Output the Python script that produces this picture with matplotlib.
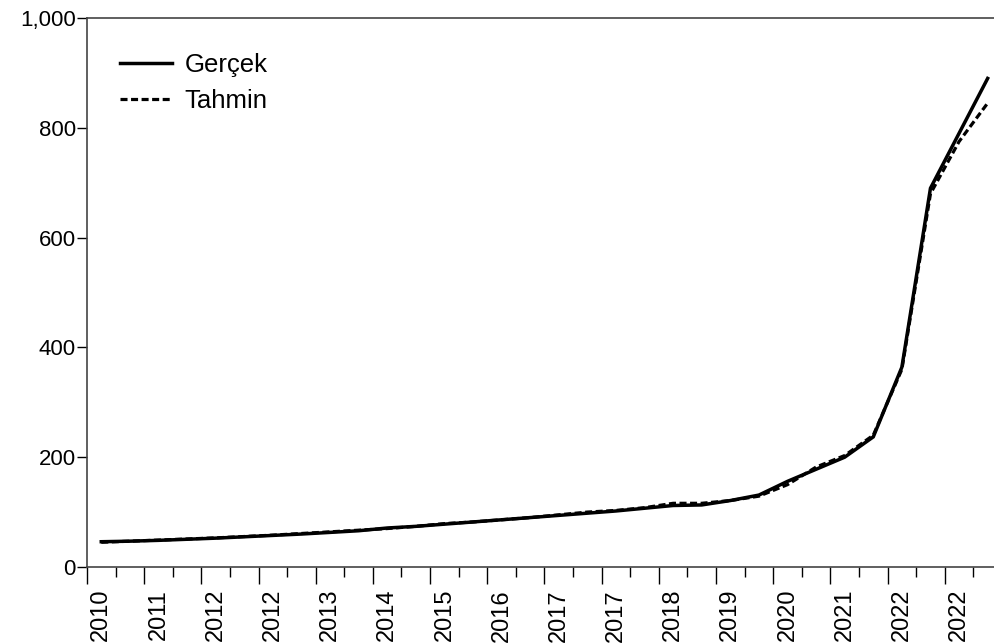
import matplotlib.pyplot as plt
from matplotlib.ticker import FixedLocator, FuncFormatter

plt.rcParams['font.family'] = ['Liberation Sans', 'DejaVu Sans']

# one label for every second observation
tick_labels = ['2010', '2011', '2012', '2012', '2013', '2014', '2015', '2016',
               '2017', '2017', '2018', '2019', '2020', '2021', '2022', '2022']

gercek = [46, 47, 48.5, 50.5, 52.5, 55, 57.5, 60, 63, 66,
          71, 74, 78, 82, 86, 90, 94, 98, 102, 107,
          112, 113, 121, 131, 156, 178, 200, 237, 364, 690,
          790, 890]

tahmin = [45, 47, 49, 51, 53, 55.5, 58, 61, 64, 67,
          70, 74, 79, 82, 86, 90, 95, 100, 103, 108,
          116, 116, 121, 129, 150, 182, 203, 240, 360, 680,
          775, 845]

x = list(range(len(gercek)))

fig = plt.figure(figsize=(9.94, 6.44), dpi=100)
ax = fig.add_axes([0.0875, 0.1196, 0.9205, 0.8524])

ax.plot(x, gercek, color='black', lw=2.5, solid_joinstyle='miter', label='Gerçek')
ax.plot(x, tahmin, color='black', lw=2.3, ls=(0, (2.2, 1.1)), label='Tahmin')

ax.set_xlim(-0.5, len(x) - 0.5)
ax.set_ylim(0, 1000)

ax.xaxis.set_major_locator(FixedLocator([i - 0.5 for i in range(0, len(x), 2)]))
ax.xaxis.set_minor_locator(FixedLocator([i + 0.5 for i in range(0, len(x), 2)]))
ax.set_xticklabels([])
ax.tick_params(axis='x', which='major', length=12, width=1, direction='out')
ax.tick_params(axis='x', which='minor', length=7, width=1, direction='out')
for i, lab in enumerate(tick_labels):
    ax.text(2 * i, -0.04, lab, transform=ax.get_xaxis_transform(),
            rotation=90, ha='center', va='top', fontsize=17)

ax.set_yticks([0, 200, 400, 600, 800, 1000])
ax.yaxis.set_major_formatter(FuncFormatter(lambda v, p: f'{int(v):,}'))
ax.tick_params(axis='y', length=7, width=1, direction='out', labelsize=16, pad=1)

for side in ['left', 'bottom', 'top']:
    ax.spines[side].set_color('#444444')
    ax.spines[side].set_linewidth(1.2)
ax.spines['right'].set_visible(False)

ax.legend(loc='upper left', frameon=False, fontsize=18.5, handlelength=2.0,
          handletextpad=0.5, labelspacing=0.45, borderaxespad=0.0,
          bbox_to_anchor=(0.025, 0.955))

fig.savefig('out.png', dpi=100)
